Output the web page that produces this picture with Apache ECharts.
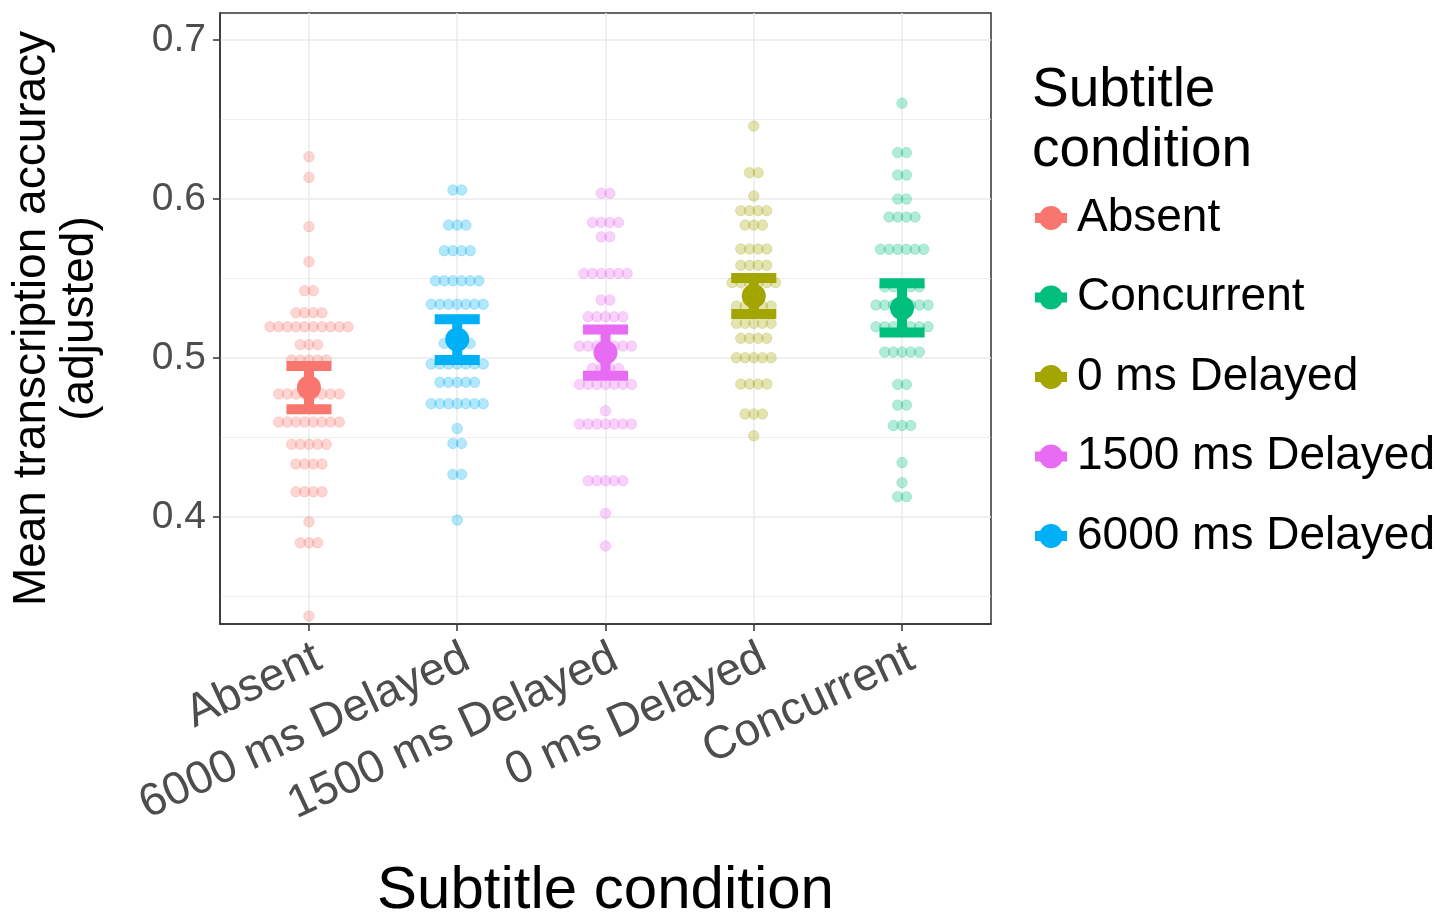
<!DOCTYPE html>
<html>
<head>
<meta charset="utf-8">
<title>Subtitle condition</title>
<script src="https://cdn.jsdelivr.net/npm/echarts@6/dist/echarts.min.js"></script>
<style>
  html,body{margin:0;padding:0;background:#fff;}
  #main{width:1453px;height:914px;}
</style>
</head>
<body>
<div id="main"></div>
<script>
// categories along x, left to right
var categories = ['Absent', '6000 ms Delayed', '1500 ms Delayed', '0 ms Delayed', 'Concurrent']
var colors = ['#F8766D', '#00B0F6', '#E76BF3', '#A3A500', '#00BF7D']
// legend order
var legendNames = ['Absent', 'Concurrent', '0 ms Delayed', '1500 ms Delayed', '6000 ms Delayed']

// means and half error bars (same order as categories)
var means = [0.4814, 0.5116, 0.5034, 0.5390, 0.5315]
var halfErr = [0.0136, 0.0128, 0.0146, 0.0113, 0.0155]

// dot rows: [accuracy, number of participants in that bin]
var absentRows = [[0.6266,1],[0.6136,1],[0.5826,1],[0.5606,1],[0.5423,2],[0.5285,4],[0.5197,10],[0.5084,3],[0.4987,5],[0.4774,8],[0.4597,8],[0.4457,5],[0.4333,4],[0.4159,4],[0.3970,1],[0.3838,3],[0.3377,1]]
var d6000Rows = [[0.6057,2],[0.5836,3],[0.5675,4],[0.5486,6],[0.5338,7],[0.5092,4],[0.4962,7],[0.4847,5],[0.4713,7],[0.4557,1],[0.4463,2],[0.4268,2],[0.3981,1]]
var d1500Rows = [[0.6036,2],[0.5853,4],[0.5763,2],[0.5532,6],[0.5365,2],[0.5260,5],[0.5075,7],[0.4935,4],[0.4834,7],[0.4668,1],[0.4585,7],[0.4228,5],[0.4023,1],[0.3818,1]]
var d0Rows = [[0.6459,1],[0.6166,2],[0.6019,1],[0.5927,4],[0.5836,3],[0.5686,4],[0.5583,4],[0.5474,6],[0.5327,5],[0.5218,5],[0.5124,4],[0.5002,5],[0.4836,4],[0.4648,3],[0.4511,1]]
var concRows = [[0.6602,1],[0.6292,2],[0.6151,2],[0.6000,2],[0.5887,4],[0.5684,6],[0.5448,5],[0.5333,7],[0.5197,7],[0.5038,5],[0.4834,2],[0.4704,2],[0.4576,3],[0.4342,1],[0.4216,1],[0.4128,2]]
var allRows = [absentRows, d6000Rows, d1500Rows, d0Rows, concRows]

var yTicks = [0.4, 0.5, 0.6, 0.7]
var yMinor = [0.35, 0.45, 0.55, 0.65]
var xTicks = [1, 2, 3, 4, 5]

var FONT = "'Liberation Sans', Arial, sans-serif"
var dotStep = 0.0585

function $each(arr, fn){ for(var i = 0; i < arr.length; i++) fn(arr[i], i) }

//把每行的点横向居中排开
function buildDots(rows, pos){
    var out = []
    $each(rows, function(r){
        var n = r[1]
        for(var i = 0; i < n; i++){
            out.push([pos + (i - (n - 1) / 2) * dotStep, r[0]])
        }
    })
    return out
}

//误差线
function renderErr(params, api){
    var x = api.value(0), m = api.value(1), h = api.value(2)
    var top = api.coord([x, m + h]), bot = api.coord([x, m - h]), mid = api.coord([x, m])
    var capHalf = api.size([0.152, 0])[0]
    var c = api.visual('color')
    return {type:'group', children:[
        {type:'line', shape:{x1:top[0], y1:top[1], x2:bot[0], y2:bot[1]}, style:{stroke:c, lineWidth:10}},
        {type:'line', shape:{x1:top[0]-capHalf, y1:top[1], x2:top[0]+capHalf, y2:top[1]}, style:{stroke:c, lineWidth:10}},
        {type:'line', shape:{x1:bot[0]-capHalf, y1:bot[1], x2:bot[0]+capHalf, y2:bot[1]}, style:{stroke:c, lineWidth:10}},
        {type:'circle', shape:{cx:mid[0], cy:mid[1], r:12}, style:{fill:c}}
    ]}
}

var legendIcon = 'path://M0,7 L5.1,7 A12,12 0 0 1 26.9,7 L32,7 L32,17 L26.9,17 A12,12 0 0 1 5.1,17 L0,17 Z'

var series = []
// error bar series first so the legend takes its colour
$each(categories, function(name, i){
    series.push({
        name: name, type: 'custom', z: 5,
        itemStyle: {color: colors[i]},
        renderItem: renderErr,
        encode: {x: 0, y: 1},
        data: [[i + 1, means[i], halfErr[i]]]
    })
})
$each(categories, function(name, i){
    series.push({
        name: name, type: 'scatter', z: 2,
        symbolSize: 10.5,
        itemStyle: {color: colors[i], opacity: 0.3, borderColor: colors[i], borderWidth: 0.8},
        emphasis: {disabled: true},
        data: buildDots(allRows[i], i + 1)
    })
})

var myChart = echarts.init(document.getElementById('main'))
var option = {
    animation: false,
    textStyle: {fontFamily: FONT},
    title: {
        text: 'Subtitle\ncondition', left: 1032, top: 61, padding: 0,
        textStyle: {fontSize: 55, fontWeight: 'normal', lineHeight: 60, color: '#000', fontFamily: FONT}
    },
    legend: {
        orient: 'vertical', left: 1035, top: 193, padding: 0,
        itemWidth: 32, itemHeight: 24, itemGap: 29.5,
        selectedMode: false,
        textStyle: {fontSize: 46, color: '#000', lineHeight: 50, padding: [0, 0, 0, 5], fontFamily: FONT},
        data: legendNames.map(function(n){
            return {name: n, icon: legendIcon, itemStyle: {color: colors[categories.indexOf(n)], opacity: 1, borderWidth: 0}}
        })
    },
    grid: {
        left: 220, top: 13, width: 771, height: 611, containLabel: false, outerBoundsMode: 'none',
        show: true, borderColor: '#333', borderWidth: 1.5, backgroundColor: 'transparent'
    },
    xAxis: {
        type: 'value', min: 0.4, max: 5.6,
        name: 'Subtitle condition', nameLocation: 'middle', nameGap: 237, nameMoveOverlap: false,
        nameTextStyle: {fontSize: 60, color: '#000', fontFamily: FONT},
        axisLine: {show: true, lineStyle: {color: '#333', width: 1.5}},
        axisTick: {show: true, customValues: xTicks, length: 7, lineStyle: {color: '#333', width: 1.5}},
        axisLabel: {
            customValues: xTicks, rotate: 25, fontSize: 46, lineHeight: 46, color: '#4D4D4D', margin: 11,
            align: 'right', verticalAlign: 'top', hideOverlap: false,
            formatter: function(v){ return categories[Math.round(v) - 1] }
        },
        splitLine: {show: true, lineStyle: {color: '#EBEBEB', width: 1.5}}
    },
    yAxis: [{
        type: 'value', min: 0.3327, max: 0.717,
        name: 'Mean transcription accuracy\n(adjusted)', nameLocation: 'middle', nameGap: 116, nameRotate: 90, nameMoveOverlap: false,
        nameTextStyle: {fontSize: 46, color: '#000', lineHeight: 48, fontFamily: FONT},
        axisLine: {show: true, lineStyle: {color: '#333', width: 1.5}},
        axisTick: {show: true, customValues: yTicks, length: 7, lineStyle: {color: '#333', width: 1.5}},
        axisLabel: {customValues: yTicks, fontSize: 39, color: '#4D4D4D', margin: 14, formatter: function(v){ return v.toFixed(1) }},
        splitLine: {show: true, lineStyle: {color: '#EBEBEB', width: 1.5}}
    }, {
        type: 'value', min: 0.3327, max: 0.717, position: 'left',
        axisLine: {show: false},
        axisTick: {show: false, customValues: yMinor},
        axisLabel: {show: false, customValues: yMinor},
        splitLine: {show: true, lineStyle: {color: '#EBEBEB', width: 0.8}}
    }],
    series: series
}
myChart.setOption(option)
</script>
</body>
</html>
